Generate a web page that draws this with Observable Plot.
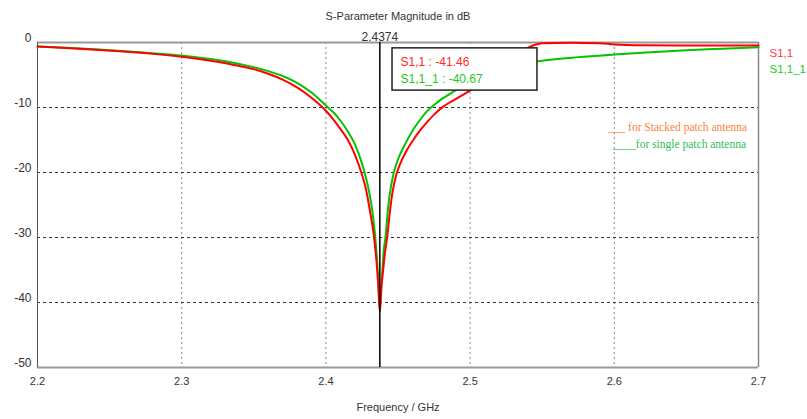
<!DOCTYPE html>
<html>
<head>
<meta charset="utf-8">
<script src="https://cdn.jsdelivr.net/npm/d3@7"></script>
<script src="https://cdn.jsdelivr.net/npm/@observablehq/plot@0.6"></script>
<style>
  html, body { margin: 0; padding: 0; background: #fff; }
  #chart svg { display: block; }
</style>
</head>
<body>
<div id="chart"></div>
<script>
// ---- data ----
const stackedFreq = [2.20, 2.22, 2.24, 2.26, 2.28, 2.30, 2.32, 2.34, 2.35, 2.36, 2.37, 2.38, 2.39, 2.40, 2.405, 2.41, 2.415, 2.42, 2.425, 2.428, 2.431, 2.433, 2.435, 2.4362, 2.4374, 2.4386, 2.4397, 2.441, 2.4425, 2.444, 2.446, 2.449, 2.452, 2.456, 2.4606, 2.465, 2.47, 2.475, 2.48, 2.49, 2.50, 2.51, 2.52, 2.53, 2.538, 2.545, 2.55, 2.57, 2.59, 2.60, 2.62, 2.65, 2.70];
const stackedDb   = [-0.6, -0.85, -1.1, -1.4, -1.75, -2.2, -2.8, -3.6, -4.1, -4.8, -5.7, -6.9, -8.5, -10.5, -11.8, -13.3, -14.9, -17.2, -20.3, -22.8, -26.5, -29.3, -33.5, -37.0, -41.46, -37.5, -35.0, -32.3, -30.0, -26.8, -23.3, -20.2, -18.4, -16.6, -15.0, -13.6, -12.3, -11.1, -10.1, -8.7, -7.4, -6.0, -4.4, -2.6, -1.1, -0.35, -0.12, -0.05, -0.1, -0.3, -0.42, -0.45, -0.45];

const singleFreq = [2.20, 2.22, 2.24, 2.26, 2.28, 2.30, 2.32, 2.34, 2.35, 2.36, 2.37, 2.38, 2.39, 2.40, 2.405, 2.41, 2.415, 2.42, 2.425, 2.428, 2.431, 2.433, 2.435, 2.4362, 2.4374, 2.4386, 2.4392, 2.440, 2.4413, 2.443, 2.4443, 2.4471, 2.450, 2.455, 2.46, 2.465, 2.47, 2.475, 2.48, 2.49, 2.50, 2.51, 2.52, 2.535, 2.55, 2.575, 2.60, 2.625, 2.65, 2.675, 2.70];
const singleDb   = [-0.6, -0.8, -1.05, -1.35, -1.65, -2.0, -2.55, -3.3, -3.8, -4.4, -5.15, -6.2, -7.7, -9.7, -10.7, -12.0, -13.6, -15.6, -18.6, -21.0, -24.2, -27.3, -32.0, -36.0, -40.67, -37.0, -35.0, -32.3, -30.0, -25.7, -23.3, -20.0, -18.0, -15.6, -13.6, -12.0, -10.6, -9.6, -8.75, -7.35, -6.0, -5.05, -4.25, -3.35, -2.8, -2.25, -1.85, -1.5, -1.2, -0.95, -0.72];

const xTicks = [2.2, 2.3, 2.4, 2.5, 2.6, 2.7];
const yTicks = [0, -10, -20, -30, -40, -50];
const markerFreq = 2.4374;
const markerLabels = ["S1,1 : -41.46", "S1,1_1 : -40.67"];
const seriesNames = ["S1,1", "S1,1_1"];
const legendNotes = ["___ for Stacked patch antenna", "____for single patch antenna"];
const title = "S-Parameter Magnitude in dB";
const xLabel = "Frequency / GHz";

// ---- build ----
const stacked = stackedFreq.map((f, i) => ({f, db: stackedDb[i]}));
const single = singleFreq.map((f, i) => ({f, db: singleDb[i]}));

const RED = "#ff0000", GREEN = "#00c400";
const font = "Liberation Sans, Arial, sans-serif";
const fmt = d => String(d);

const chart = Plot.plot({
  width: 807,
  height: 419,
  marginLeft: 37,
  marginRight: 49,
  marginTop: 42,
  marginBottom: 52,
  style: {fontFamily: font, fontSize: "11px", color: "#333", background: "#fff"},
  x: {domain: [2.2, 2.7], label: null},
  y: {domain: [-50, 0], label: null},
  marks: [
    Plot.gridX(xTicks, {stroke: "#8a8a8a", strokeOpacity: 1, strokeDasharray: "2,3"}),
    Plot.gridY(yTicks, {stroke: "#333", strokeOpacity: 1, strokeDasharray: "3,3"}),
    Plot.ruleY([0, -50], {stroke: "#999", strokeWidth: 2}),
    Plot.ruleX([2.2], {stroke: "#555", strokeWidth: 1}),
    Plot.ruleX([2.7], {stroke: "#888", strokeWidth: 1.5}),
    Plot.axisX(xTicks, {tickSize: 0, tickPadding: 10, tickFormat: fmt, fill: "#333", fontSize: 11}),
    Plot.axisY(yTicks, {tickSize: 0, tickPadding: 6, dy: -4, tickFormat: fmt, fill: "#333", fontSize: 12}),
    Plot.line(single, {x: "f", y: "db", stroke: GREEN, strokeWidth: 2, curve: "monotone-x"}),
    Plot.line(stacked, {x: "f", y: "db", stroke: RED, strokeWidth: 2, curve: "monotone-x"}),
    Plot.ruleX([markerFreq], {stroke: "#000", strokeWidth: 1.5}),
    Plot.text([markerFreq], {x: d => d, frameAnchor: "top", dy: -10, text: d => d.toFixed(4), fill: "#333", fontSize: 12}),
    Plot.text([title], {frameAnchor: "top", dy: -30, text: d => d, fill: "#333", fontSize: 11}),
    Plot.text([xLabel], {frameAnchor: "bottom", dy: 43, text: d => d, fill: "#333", fontSize: 11}),
    // marker readout box
    Plot.rect([0], {x1: 2.4462, x2: 2.5467, y1: -7.4, y2: -0.9, fill: "#fff", stroke: "#222", strokeWidth: 1.5}),
    Plot.text([markerLabels[0]], {x: 2.4518, y: -3.1, text: d => d, textAnchor: "start", fill: "#ff2a2a", fontSize: 12}),
    Plot.text([markerLabels[1]], {x: 2.4518, y: -5.6, text: d => d, textAnchor: "start", fill: "#1ec81e", fontSize: 12}),
    // series labels on the right
    Plot.text([seriesNames[0]], {frameAnchor: "top-right", dx: 11, dy: 6, text: d => d, textAnchor: "start", fill: "#ff3a3a", fontSize: 11.5}),
    Plot.text([seriesNames[1]], {frameAnchor: "top-right", dx: 11, dy: 22, text: d => d, textAnchor: "start", fill: "#22cc22", fontSize: 11.5}),
    // hand-drawn legend notes
    Plot.text([legendNotes[0]], {x: 2.5956, y: -13.1, text: d => d, textAnchor: "start", fill: "#ff7f3a", fontSize: 11.5, fontFamily: "Liberation Serif, Times New Roman, serif"}),
    Plot.text([legendNotes[1]], {x: 2.5990, y: -15.6, text: d => d, textAnchor: "start", fill: "#2ebe5a", fontSize: 11.5, fontFamily: "Liberation Serif, Times New Roman, serif"})
  ]
});
document.getElementById("chart").appendChild(chart);
</script>
</body>
</html>
